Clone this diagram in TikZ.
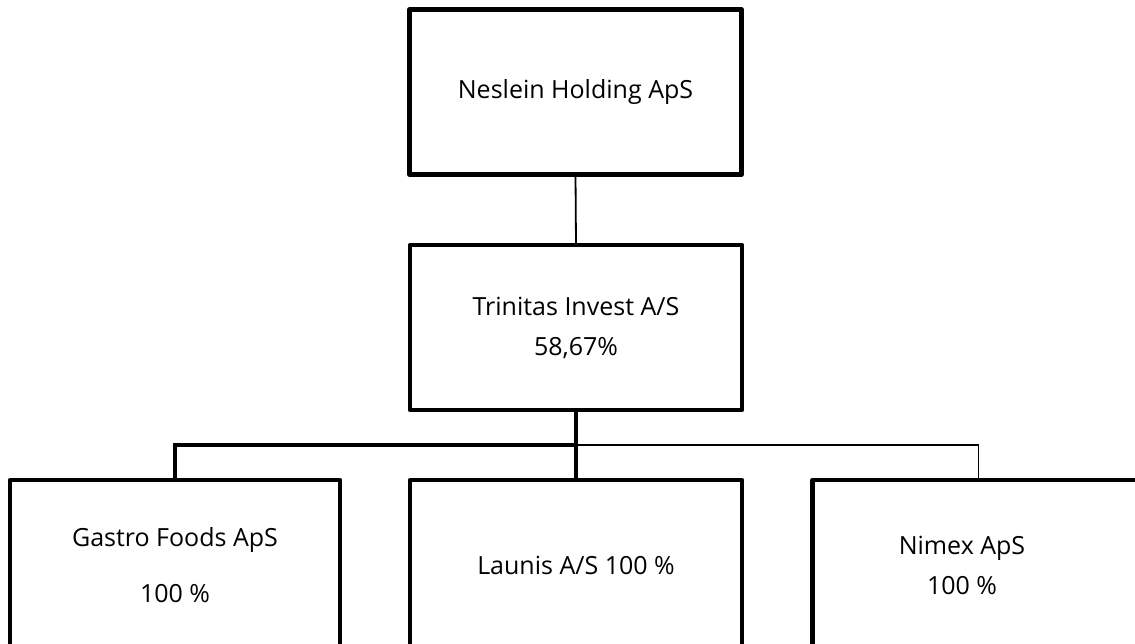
\documentclass[tikz,border=0pt]{standalone}
\usepackage{fontspec}
\setmainfont{Open Sans}
\usetikzlibrary{positioning}

\begin{document}
\begin{tikzpicture}[x=1pt,y=-1pt,
    company/.style={draw, line width=4.5pt, line join=round, fill=white,
      minimum width=332pt, minimum height=165pt, inner sep=0pt, outer sep=0pt,
      align=center, font=\fontsize{25}{40}\selectfont},
    heavy/.style={line width=4.5pt},
    light/.style={line width=1.8pt}]
  \useasboundingbox (0,0) rectangle (1135,644);
  \clip (0,0) rectangle (1135,644);
  % owners
  \node[company] (neslein) at (575.5,92) {Neslein Holding ApS};
  \node[company] (trinitas) at (576,327.5) {Trinitas Invest A/S\\58,67\%};
  % subsidiaries
  \node[company, minimum width=330pt, minimum height=170pt] (gastro) at (175,565)
    {Gastro Foods ApS\\[16pt]100 \%};
  \node[company, minimum height=170pt] (launis) at (576,565) {Launis A/S 100 \%};
  \node[company, minimum height=170pt] (nimex) at (978.5,565) {};
  \node[align=center, font=\fontsize{25}{40}\selectfont] (nimextext) at (962,565)
    {Nimex ApS\\100 \%};
  \coordinate (bus) at (576,445);
  % connectors
  \draw[light] (neslein.south) -- (trinitas.north);
  \draw[heavy] (trinitas.south) -- (launis.north);
  \draw[heavy] (gastro.north) |- (bus);
  \draw[light] (bus) -| (nimex.north);
\end{tikzpicture}
\end{document}
